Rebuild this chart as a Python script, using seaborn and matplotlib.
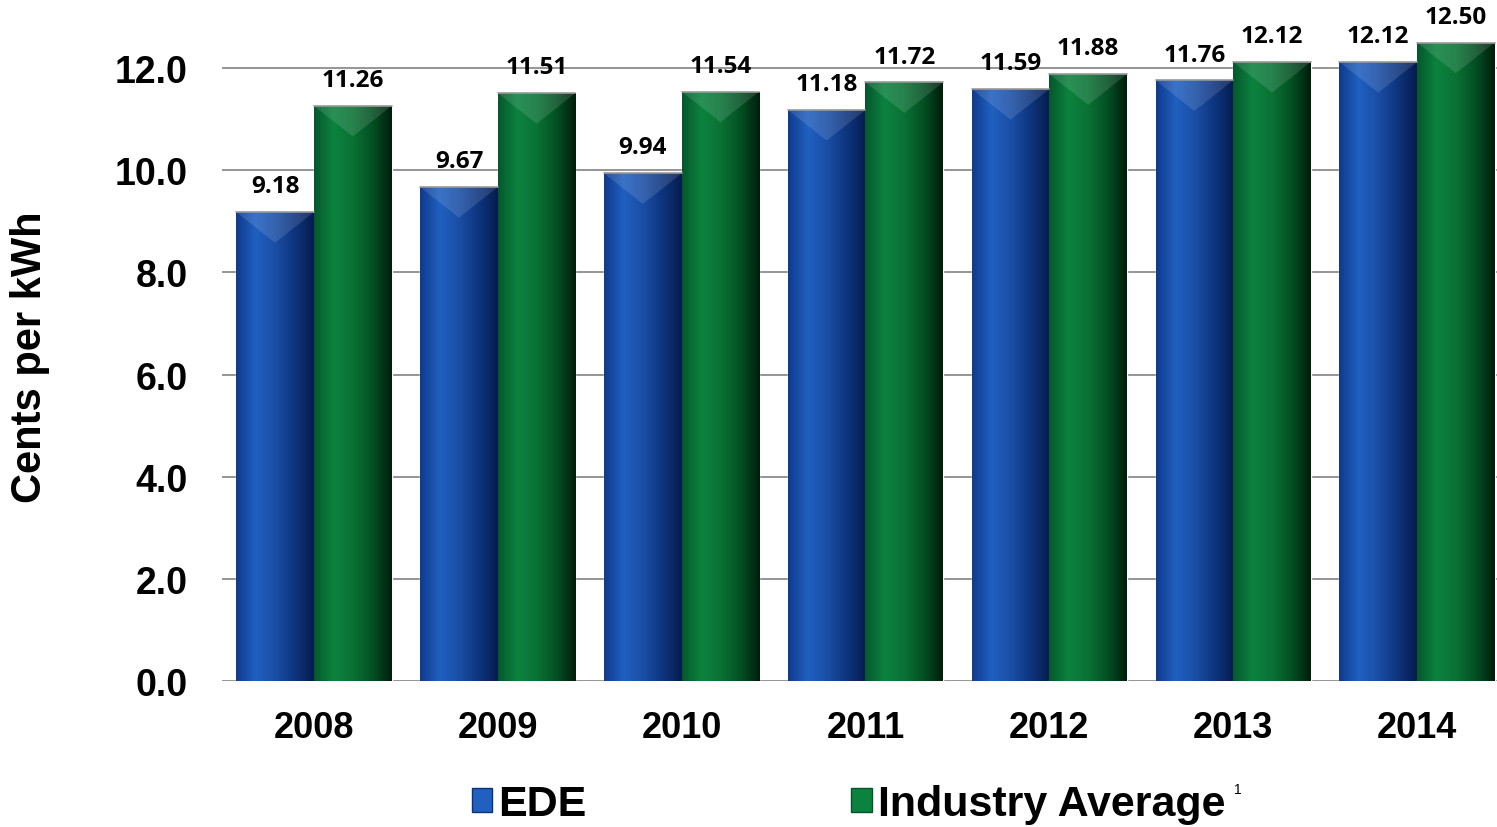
import numpy as np
import pandas as pd
import matplotlib
matplotlib.use("Agg")
import matplotlib.pyplot as plt
import seaborn as sns
from matplotlib.colors import LinearSegmentedColormap
from matplotlib.patches import Patch

years = ["2008", "2009", "2010", "2011", "2012", "2013", "2014"]
ede = [9.18, 9.67, 9.94, 11.18, 11.59, 11.76, 12.12]
industry = [11.26, 11.51, 11.54, 11.72, 11.88, 12.12, 12.50]
series_names = ["EDE", "Industry Average"]

df = pd.DataFrame({
    "year": years * 2,
    "value": ede + industry,
    "series": [series_names[0]] * len(years) + [series_names[1]] * len(years),
})

sns.set_theme(style="white")
plt.rcParams["font.family"] = ["Liberation Sans", "DejaVu Sans"]
plt.rcParams["text.color"] = "black"
plt.rcParams["xtick.color"] = "black"
plt.rcParams["ytick.color"] = "black"
plt.rcParams["axes.labelcolor"] = "black"

fig = plt.figure(figsize=(14.97, 8.28), dpi=100)
ax = fig.add_axes([222 / 1497, 1 - 682 / 828, (1509 - 222) / 1497, 682 / 828])

pal = {"EDE": "#1a4fa8", "Industry Average": "#0a7a3a"}
sns.barplot(data=df, x="year", y="value", hue="series", palette=pal,
            width=0.845, ax=ax, legend=False, saturation=1, zorder=3)

ax.set_ylim(0, 682 / 51.08)
ax.set_xlim(-0.5, 6.5)
ax.set_yticks(np.arange(0, 13, 2))
ax.set_yticklabels([f"{v:.1f}" for v in np.arange(0, 13, 2)])
ax.grid(axis="y", color="#8c8c8c", linewidth=1.3, zorder=0)
ax.grid(axis="x", visible=False)
for s in ax.spines.values():
    s.set_visible(False)
ax.tick_params(axis="y", labelsize=27, pad=24.5, length=0)
ax.tick_params(axis="x", labelsize=26, pad=21, length=0)
for lab in ax.get_xticklabels() + ax.get_yticklabels():
    lab.set_fontweight("bold")
ax.set_xlabel("")
ax.set_ylabel("Cents per kWh", fontsize=30, fontweight="bold")
ax.yaxis.set_label_coords((50 - 222) / 1287, 1 - 357 / 682)

# gradient shading for bars
blue_cmap = LinearSegmentedColormap.from_list(
    "b", ["#0f3a8c", "#2060c0", "#1a4ea6", "#0e357e", "#061c4e"])
green_cmap = LinearSegmentedColormap.from_list(
    "g", ["#05582c", "#0c823f", "#097234", "#045023", "#011d0b"])
grad = np.linspace(0, 1, 256).reshape(1, -1)
containers = ax.containers
for cont, cmap in zip(containers, [blue_cmap, green_cmap]):
    for bar in cont:
        x0, y0 = bar.get_x(), bar.get_y()
        w, h = bar.get_width(), bar.get_height()
        im = ax.imshow(grad, cmap=cmap, aspect="auto",
                       extent=[x0, x0 + w, y0, y0 + h], zorder=4)
        im.set_clip_path(bar)
        bev = 0.6
        tri = plt.Polygon([[x0, y0 + h], [x0 + w, y0 + h], [x0 + w / 2, y0 + h - bev]],
                          closed=True, facecolor="white", alpha=0.12, zorder=5,
                          edgecolor="none")
        ax.add_patch(tri)
        ax.plot([x0, x0 + w], [y0 + h, y0 + h], color="#9a9a9a", lw=1.2, zorder=6)

# data labels
for cont, vals in zip(containers, [ede, industry]):
    for bar, v in zip(cont, vals):
        ax.text(bar.get_x() + bar.get_width() / 2, bar.get_height() + 0.27,
                f"{v:.2f}", ha="center", va="bottom", fontsize=17.5,
                fontweight="bold", family=["Open Sans", "DejaVu Sans"], zorder=7)
ax.set_xlim(-0.5, 6.5)

# legend
handles = [Patch(facecolor="#2060c0", edgecolor="#0c2f78"),
           Patch(facecolor="#0c823f", edgecolor="#05532a")]
leg = fig.legend(handles, series_names, loc="center left", ncol=2,
                 bbox_to_anchor=(472 / 1497, 1 - 805 / 828),
                 frameon=False, prop={"size": 31, "weight": "bold"},
                 handlelength=0.47, handleheight=0.47, handletextpad=0.14,
                 columnspacing=6.15, borderpad=0, borderaxespad=0)
fig.text(1238 / 1497, 1 - 790 / 828, "1", fontsize=10, ha="center", va="center")

fig.savefig("out.png", dpi=100)
